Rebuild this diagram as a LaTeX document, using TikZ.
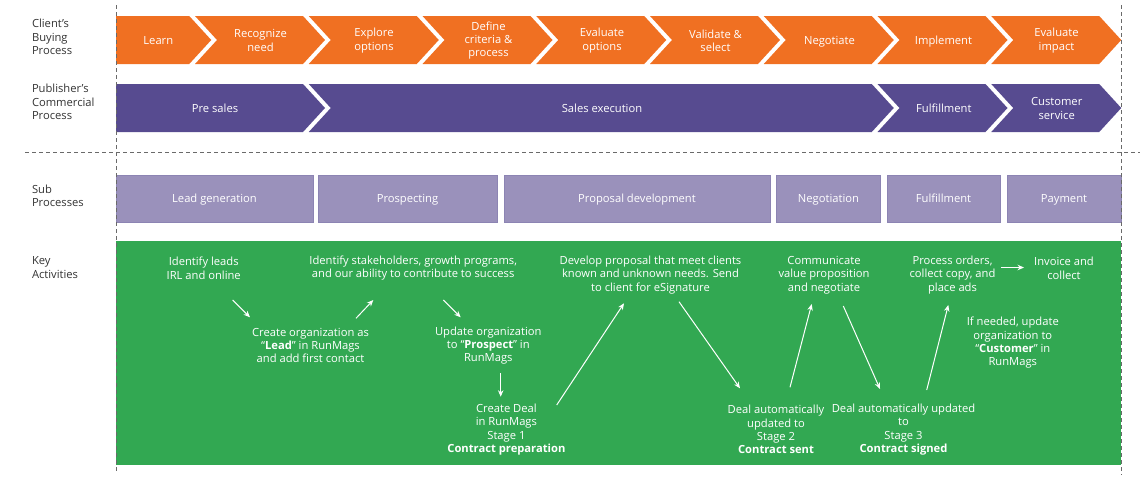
\documentclass[tikz,border=0pt]{standalone}
\usepackage{fontspec}
\setmainfont{Open Sans}
\usetikzlibrary{arrows.meta}
\definecolor{orng}{HTML}{F07022}
\definecolor{purp}{HTML}{574B90}
\definecolor{lav}{HTML}{9A91BB}
\definecolor{lavb}{HTML}{8C84B3}
\definecolor{grn}{HTML}{32A852}
\definecolor{lblc}{HTML}{333333}
\definecolor{dashc}{HTML}{6A6A6A}
\tikzset{
  txt/.style={font=\fontsize{11.2}{13.3}\selectfont, inner sep=0pt, outer sep=0pt},
  lbl/.style={txt, align=left, anchor=west, text=lblc},
  wt/.style={txt, align=center, text=white},
  one/.style={text height=9.4pt, text depth=0.6pt},
  subbox/.style={txt, one, text=white, fill=lav, draw=lavb, line width=0.6pt, minimum height=47pt},
  conn/.style={white, line width=1pt, -{Stealth[length=6.5pt,width=5.5pt]}},
  guide/.style={dashc, line width=0.8pt, dash pattern=on 4pt off 3pt},
}
\begin{document}
\begin{tikzpicture}[x=1pt,y=-1pt]
\useasboundingbox (0,0) rectangle (1140,479);

% left labels
\node[lbl] (l1) at (32,37) {Client’s\\Buying\\Process};
\node[lbl] (l2) at (32,102) {Publisher’s\\Commercial\\Process};
\node[lbl] (l3) at (32,196) {Sub\\Processes};
\node[lbl] (l4) at (32,267.7) {Key\\Activities};

% client's buying process (orange chevrons)
\fill[orng] (116,16) -- (189.25,16) -- (211.25,40) -- (189.25,64) -- (116,64) -- cycle;
\foreach \s in {195,308.75,422.5,536.25,650,763.75,877.5,991.25}{
  \fill[orng] (\s,16) -- ++(108,0) -- ++(22,24) -- ++(-22,24) -- ++(-108,0) -- ++(22,-24) -- cycle;
}
\node[wt, one] (c1) at (158.3,40) {Learn};
\node[wt] (c2) at (260.5,40.5) {Recognize\\need};
\node[wt] (c3) at (374,40.5) {Explore\\options};
\node[wt] (c4) at (488.5,40.5) {Define\\criteria \&\\process};
\node[wt] (c5) at (602,40.5) {Evaluate\\options};
\node[wt] (c6) at (715.5,40.5) {Validate \&\\select};
\node[wt, one] (c7) at (829.5,40) {Negotiate};
\node[wt, one] (c8) at (943.5,40) {Implement};
\node[wt] (c9) at (1056.5,40.5) {Evaluate\\impact};

% publisher's commercial process (purple chevrons)
\fill[purp] (116,84) -- (303,84) -- (325,108) -- (303,132) -- (116,132) -- cycle;
\fill[purp] (308.75,84) -- (871.75,84) -- (893.75,108) -- (871.75,132) -- (308.75,132) -- (330.75,108) -- cycle;
\fill[purp] (877.5,84) -- (985.5,84) -- (1007.5,108) -- (985.5,132) -- (877.5,132) -- (899.5,108) -- cycle;
\fill[purp] (991.25,84) -- (1099.25,84) -- (1121.25,108) -- (1099.25,132) -- (991.25,132) -- (1013.25,108) -- cycle;
\node[wt, one] (p1) at (215,108) {Pre sales};
\node[wt, one] (p2) at (602,108) {Sales execution};
\node[wt, one] (p3) at (943.8,108) {Fulfillment};
\node[wt] (p4) at (1056.7,108.5) {Customer\\service};

% sub processes
\node[subbox, minimum width=197pt] (s1) at (214.5,198.5) {Lead generation};
\node[subbox, minimum width=179pt] (s2) at (407.5,198.5) {Prospecting};
\node[subbox, minimum width=266pt] (s3) at (637,198.5) {Proposal development};
\node[subbox, minimum width=104pt] (s4) at (828.5,198.5) {Negotiation};
\node[subbox, minimum width=113pt] (s5) at (943.5,198.5) {Fulfillment};
\node[subbox, minimum width=114pt] (s6) at (1064,198.5) {Payment};

% key activities
\fill[grn] (116,241) rectangle (1121,465);
\node[wt] (k1) at (203.7,268.2) {Identify leads\\IRL and online};
\node[wt] (k2) at (413.2,268.2) {Identify stakeholders, growth programs,\\and our ability to contribute to success};
\node[wt] (k3) at (650.5,275) {Develop proposal that meet clients\\known and unknown needs. Send\\to client for eSignature};
\node[wt] (k4) at (824,275) {Communicate\\value proposition\\and negotiate};
\node[wt] (k5) at (952.5,275) {Process orders,\\collect copy, and\\place ads};
\node[wt] (k6) at (1064,268.2) {Invoice and\\collect};
\node[wt] (k7) at (310.5,345.5) {Create organization as\\“\textbf{Lead}” in RunMags\\and add first contact};
\node[wt] (k8) at (488.3,345.5) {Update organization\\to “\textbf{Prospect}” in\\RunMags};
\node[wt] (k9) at (506.4,429.5) {Create Deal\\in RunMags\\Stage 1\\\textbf{Contract preparation}};
\node[wt] (k10) at (776,429.5) {Deal automatically\\updated to\\Stage 2\\\textbf{Contract sent}};
\node[wt] (k11) at (903.5,429.5) {Deal automatically updated\\to\\Stage 3\\\textbf{Contract signed}};
\node[wt] (k12) at (1012.8,342.8) {If needed, update\\organization to\\“\textbf{Customer}” in\\RunMags};

% connector ends
\coordinate (a1s) at (232.7,300);   \coordinate (a1e) at (250,317.3);
\coordinate (a2s) at (356,318.3);   \coordinate (a2e) at (373.3,300);
\coordinate (a3s) at (443.3,300);   \coordinate (a3e) at (460.7,317.3);
\coordinate (a4s) at (500.7,373);   \coordinate (a4e) at (500.7,396.7);
\coordinate (a5s) at (556.7,405);   \coordinate (a5e) at (624,303.3);
\coordinate (a6s) at (679,301.7);   \coordinate (a6e) at (740,388.3);
\coordinate (a7s) at (790,387.3);   \coordinate (a7e) at (811.7,304);
\coordinate (a8s) at (843.3,306);   \coordinate (a8e) at (880,389);
\coordinate (a9s) at (926.7,390);   \coordinate (a9e) at (948.3,305);
\coordinate (a10s) at (1001,267.5); \coordinate (a10e) at (1024,267.5);
\foreach \i in {1,...,10}{ \draw[conn] (a\i s) -- (a\i e); }

% guides
\draw[guide] (116,5) -- (116,473);
\draw[guide] (1121,5) -- (1121,475);
\draw[guide] (25,152) -- (1140,152);
\end{tikzpicture}
\end{document}
